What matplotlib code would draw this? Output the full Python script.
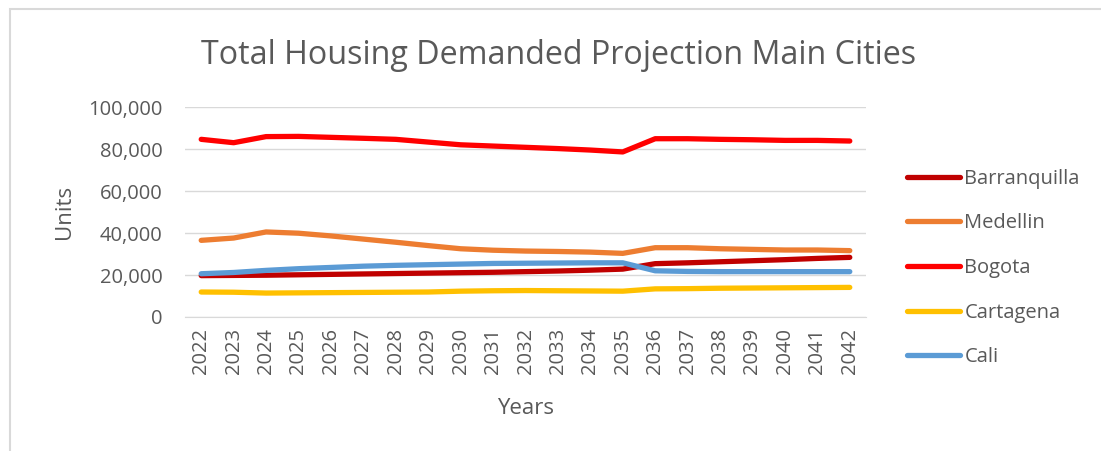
import matplotlib
matplotlib.use("Agg")
import matplotlib.pyplot as plt
from matplotlib.patches import Rectangle
from matplotlib.ticker import FuncFormatter

years = list(range(2022, 2043))
barranquilla = [19700, 19800, 19900, 20100, 20300, 20500, 20700, 20900, 21100, 21300, 21600,
                21900, 22300, 22800, 25400, 25800, 26300, 26800, 27300, 27900, 28400]
medellin = [36500, 37600, 40500, 39900, 38600, 37100, 35600, 34000, 32500, 31800, 31400,
            31200, 30900, 30300, 33000, 33000, 32500, 32200, 31900, 31900, 31600]
bogota = [84600, 83000, 85900, 86000, 85550, 85100, 84600, 83300, 82000, 81400, 80800,
          80200, 79500, 78600, 84900, 84900, 84600, 84400, 84100, 84100, 83800]
cartagena = [11900, 11800, 11400, 11500, 11600, 11700, 11800, 11900, 12300, 12500, 12600,
             12500, 12400, 12300, 13400, 13500, 13700, 13800, 13900, 14000, 14100]
cali = [20600, 21200, 22200, 23000, 23600, 24200, 24600, 24900, 25200, 25500, 25600,
        25700, 25800, 25800, 22000, 21700, 21600, 21600, 21600, 21600, 21600]

series = [("Barranquilla", barranquilla, "#C00000"),
          ("Medellin", medellin, "#ED7D31"),
          ("Bogota", bogota, "#FF0000"),
          ("Cartagena", cartagena, "#FFC000"),
          ("Cali", cali, "#5B9BD5")]

plt.rcParams['font.family'] = ['Open Sans', 'DejaVu Sans']
TXT = "#595959"

fig = plt.figure(figsize=(11.01, 4.51), dpi=100)
fig.patches.append(Rectangle((10/1101, -0.1), 1.2, (451-9)/451 + 0.1, transform=fig.transFigure,
                             fill=False, edgecolor="#D9D9D9", linewidth=1.5))
ax = fig.add_axes([185/1101, (451-317)/451, (866-185)/1101, 210/451])

x = list(range(len(years)))
for name, vals, col in series:
    ax.plot(x, vals, color=col, linewidth=3.8, solid_capstyle='round', label=name)

ax.set_xlim(-0.5, len(years) - 0.5)
ax.set_ylim(0, 100000)
ax.set_yticks(range(0, 100001, 20000))
ax.yaxis.set_major_formatter(FuncFormatter(lambda v, p: f"{int(v):,}"))
ax.set_xticks(x)
ax.set_xticklabels([str(y) for y in years], rotation=90)
ax.grid(axis='y', color="#D9D9D9", linewidth=1.0)
ax.set_axisbelow(True)
for s in ['top', 'right', 'left']:
    ax.spines[s].set_visible(False)
ax.spines['bottom'].set_color("#D9D9D9")
ax.tick_params(axis='both', length=0, labelsize=14.5, colors=TXT)
ax.tick_params(axis='y', pad=16)
ax.tick_params(axis='x', pad=8)

ax.set_xlabel("Years", fontsize=16, color=TXT, labelpad=17)
ax.set_ylabel("Units", fontsize=16, color=TXT, labelpad=10)
fig.text(559/1101, 1 - 55/451, "Total Housing Demanded Projection Main Cities",
         ha='center', va='center', fontsize=23.2, color=TXT)

leg = ax.legend(loc='center left', bbox_to_anchor=(897/1101, (451-268)/451),
                bbox_transform=fig.transFigure, frameon=False, fontsize=14.5,
                handlelength=2.65, handletextpad=0.2, labelspacing=1.22, borderpad=0)
for t in leg.get_texts():
    t.set_color(TXT)

fig.savefig("out.png", dpi=100)
